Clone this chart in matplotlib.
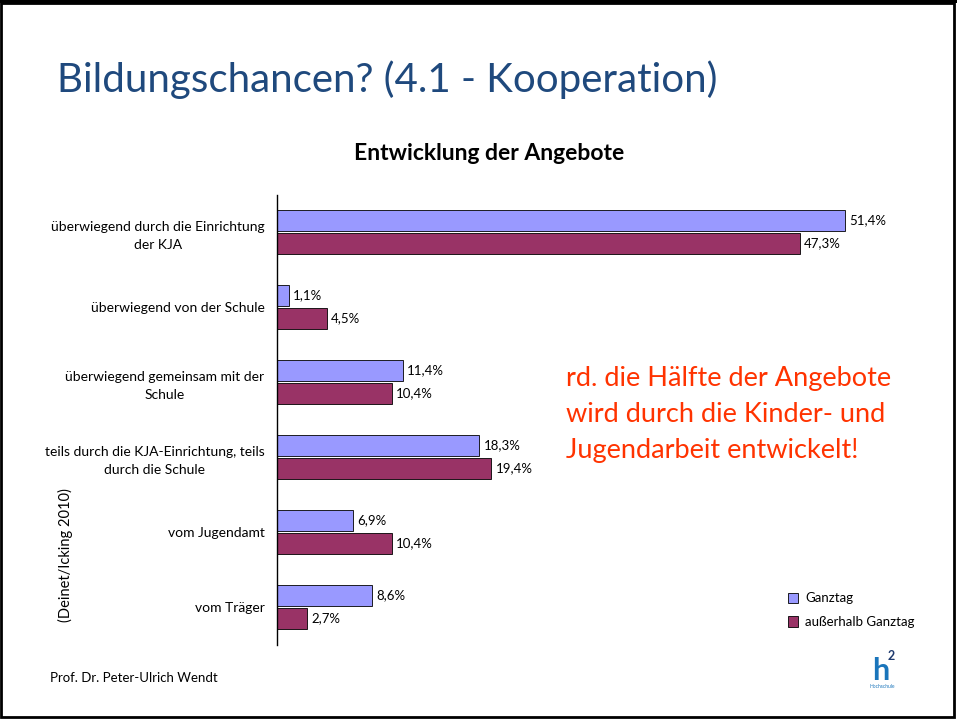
import matplotlib.pyplot as plt
from matplotlib.patches import Rectangle

categories = [
    "überwiegend durch die Einrichtung\nder KJA",
    "überwiegend von der Schule",
    "überwiegend gemeinsam mit der\nSchule",
    "teils durch die KJA-Einrichtung, teils\ndurch die Schule",
    "vom Jugendamt",
    "vom Träger",
]
ganztag = [51.4, 1.1, 11.4, 18.3, 6.9, 8.6]
ausserhalb = [47.3, 4.5, 10.4, 19.4, 10.4, 2.7]
series_names = ["Ganztag", "außerhalb Ganztag"]
series_colors = ["#9999FF", "#993366"]

W, H = 957, 719
plt.rcParams["font.family"] = ["Lato", "DejaVu Sans"]

fig = plt.figure(figsize=(W / 100, H / 100), dpi=100)


def fx(px):
    return px / W


def fy(py):
    return 1 - py / H


# slide border
fig.patches.append(Rectangle((fx(1), fy(717)), fx(953), (716 - 2) / H,
                             transform=fig.transFigure, fill=False,
                             edgecolor="black", linewidth=2.0))
fig.patches.append(Rectangle((0, fy(3)), 1, 3 / H, transform=fig.transFigure,
                             facecolor="black", edgecolor="none"))

# axes: x=277..940 px, y=194.5..644.5 px
ax = fig.add_axes([fx(277), fy(644.5), fx(663), 450 / H])
ax.set_xlim(0, 60)
ax.set_ylim(len(categories) - 0.5, -0.5)

h = 0.29
off = 0.153
pos = list(range(len(categories)))
ax.barh([p - off for p in pos], ganztag, height=h, color=series_colors[0],
        edgecolor="black", linewidth=0.6, label=series_names[0])
ax.barh([p + off for p in pos], ausserhalb, height=h, color=series_colors[1],
        edgecolor="black", linewidth=0.6, label=series_names[1])

for p, v in zip(pos, ganztag):
    ax.annotate(f"{v:.1f}%".replace(".", ","), (v, p - off), xytext=(3, 0),
                textcoords="offset points", va="center", fontsize=9.5)
for p, v in zip(pos, ausserhalb):
    ax.annotate(f"{v:.1f}%".replace(".", ","), (v, p + off), xytext=(3, 0),
                textcoords="offset points", va="center", fontsize=9.5)

ax.set_yticks(pos)
ax.set_yticklabels(categories, fontsize=10, multialignment="center",
                   linespacing=1.6)
ax.tick_params(axis="y", length=0, pad=9)
ax.set_xticks([])
for side in ["top", "right", "bottom"]:
    ax.spines[side].set_visible(False)
ax.spines["left"].set_linewidth(1.0)

# legend
leg = ax.legend(frameon=False, fontsize=9.5, handlelength=0.8, handleheight=0.8,
                handletextpad=0.5, labelspacing=0.9, loc="lower left",
                bbox_to_anchor=(fx(776), fy(640)),
                bbox_transform=fig.transFigure)

# texts
fig.text(fx(57), fy(92), "Bildungschancen? (4.1 - Kooperation)", fontsize=29,
         color="#1F497D", ha="left", va="baseline")
fig.text(fx(489), fy(153), "Entwicklung der Angebote", fontsize=16.5,
         fontweight="bold", ha="center", va="center")
fig.text(fx(566), fy(458), "rd. die Hälfte der Angebote\nwird durch die Kinder- und\nJugendarbeit entwickelt!",
         fontsize=19.5, color="#FF3300", ha="left", va="baseline", linespacing=1.54)
fig.text(fx(65), fy(555), "(Deinet/Icking 2010)", fontsize=10.5, rotation=90,
         ha="center", va="center")
fig.text(fx(50), fy(678), "Prof. Dr. Peter-Ulrich Wendt", fontsize=9.5,
         ha="left", va="center")

# logo
fig.text(fx(872), fy(680), "h", fontsize=22, fontweight="bold", color="#1A75BB",
         ha="left", va="baseline")
fig.text(fx(888), fy(660), "2", fontsize=9, fontweight="bold", color="#1F3A6E",
         ha="left", va="baseline")
fig.text(fx(870), fy(684), "Hochschule", fontsize=3.5, color="#1A75BB",
         ha="left", va="top")

fig.savefig("out.png", dpi=100)
plt.close(fig)
